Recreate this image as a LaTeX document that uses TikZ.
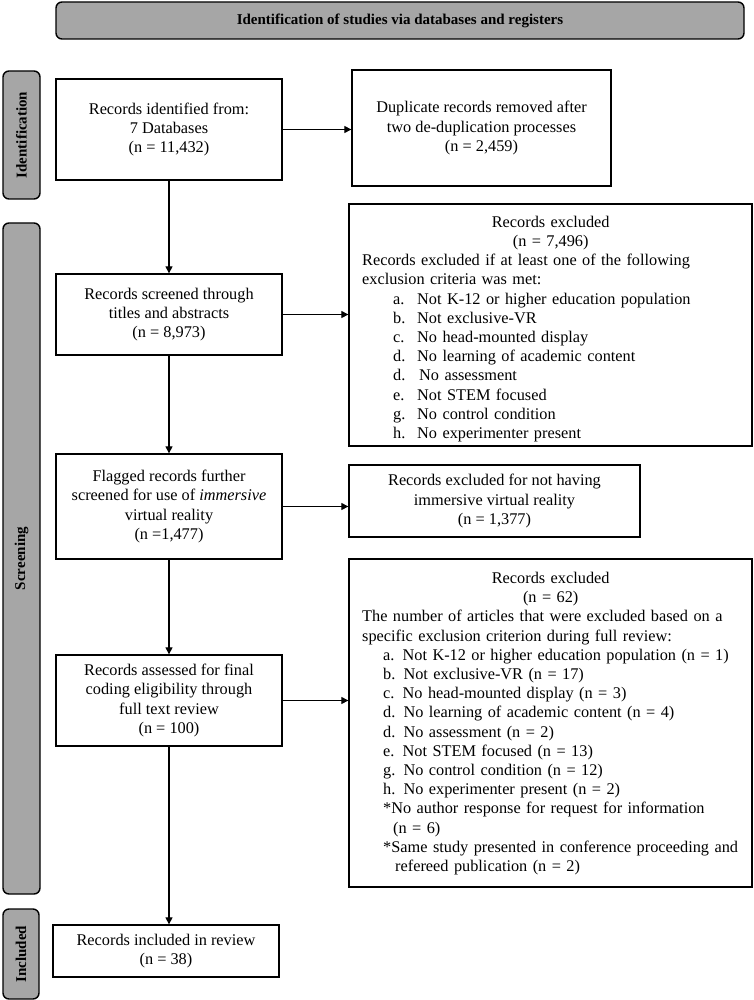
\documentclass[tikz,border=0pt]{standalone}
\usepackage{fontspec}
\setmainfont{Liberation Serif}
\usetikzlibrary{arrows.meta}
\definecolor{sidegray}{HTML}{A6A6A6}
\begin{document}
\begin{tikzpicture}[x=1pt,y=-1pt,
  box/.style={draw=black,line width=1.3pt,fill=white,inner sep=0pt,align=center,
    font=\fontsize{16.3}{19.2}\selectfont},
  sidebar/.style={draw=black,line width=1.4pt,fill=sidegray,rounded corners=6pt,
    inner sep=0pt,font=\fontsize{15}{18}\selectfont\bfseries},
  txt/.style={inner sep=0pt,align=left,text width=385pt,anchor=west,
    font=\fontsize{16.3}{19.2}\selectfont},
  arr/.style={line width=1.1pt,-{Triangle[width=7pt,length=7pt]}}
]
\useasboundingbox (0,0) rectangle (754,1000);

% banner and sidebars
\node[sidebar,minimum width=688pt,minimum height=37pt] (banner) at (400,20.5)
  {Identification of studies via databases and registers};
\node[sidebar,rotate=90,minimum width=128pt,minimum height=37pt] (sideid) at (21.5,135) {Identification};
\node[sidebar,rotate=90,minimum width=671pt,minimum height=37pt] (sidescr) at (21.5,558.5) {Screening};
\node[sidebar,rotate=90,minimum width=90pt,minimum height=36pt] (sideinc) at (21,954) {Included};

% main boxes
\node[box,minimum width=226pt,minimum height=101pt] (ident) at (169,129.5)
  {Records identified from:\\7 Databases\\(n = 11,432)};
\node[box,minimum width=259pt,minimum height=116pt] (dup) at (481.5,128)
  {Duplicate records removed after\\two de-duplication processes\\(n = 2,459)};
\node[box,minimum width=226pt,minimum height=81pt] (scr) at (169,314.5)
  {Records screened through\\titles and abstracts\\(n = 8,973)};
\node[box,minimum width=403pt,minimum height=242pt] (exA) at (550.5,325) {};
\node[txt] (exAtxt) at (362,329)
  {\makebox[377pt][c]{Records excluded}\\
   \makebox[377pt][c]{(n = 7,496)}\\
   Records excluded if at least one of the following\\
   exclusion criteria was met:\\
   \hspace*{31pt}\makebox[24pt][l]{a.}Not K-12 or higher education population\\
   \hspace*{31pt}\makebox[24pt][l]{b.}Not exclusive-VR\\
   \hspace*{31pt}\makebox[24pt][l]{c.}No head-mounted display\\
   \hspace*{31pt}\makebox[24pt][l]{d.}No learning of academic content\\
   \hspace*{31pt}\makebox[26pt][l]{d.}No assessment\\
   \hspace*{31pt}\makebox[24pt][l]{e.}Not STEM focused\\
   \hspace*{31pt}\makebox[24pt][l]{g.}No control condition\\
   \hspace*{31pt}\makebox[24pt][l]{h.}No experimenter present};
\node[box,minimum width=226pt,minimum height=105pt] (flag) at (169,506.5)
  {Flagged records further\\screened for use of \textit{immersive}\\virtual reality\\(n =1,477)};
\node[box,minimum width=291pt,minimum height=72pt] (exB) at (494.5,501)
  {Records excluded for not having\\immersive virtual reality\\(n = 1,377)};
\node[box,minimum width=226pt,minimum height=91pt] (assess) at (169,700.5)
  {Records assessed for final\\coding eligibility through\\full text review\\(n = 100)};
\node[box,minimum width=403pt,minimum height=328pt] (exC) at (550.5,723) {};
\node[txt] (exCtxt) at (362,723.5)
  {\makebox[377pt][c]{Records excluded}\\
   \makebox[377pt][c]{(n = 62)}\\
   The number of articles that were excluded based on a\\
   specific exclusion criterion during full review:\\
   \hspace*{21pt}a. Not K-12 or higher education population (n = 1)\\
   \hspace*{21pt}b. Not exclusive-VR (n = 17)\\
   \hspace*{21pt}c. No head-mounted display (n = 3)\\
   \hspace*{21pt}d. No learning of academic content (n = 4)\\
   \hspace*{21pt}d. No assessment (n = 2)\\
   \hspace*{21pt}e. Not STEM focused (n = 13)\\
   \hspace*{21pt}g. No control condition (n = 12)\\
   \hspace*{21pt}h. No experimenter present (n = 2)\\
   \hspace*{21pt}*No author response for request for information\\
   \hspace*{31pt}(n = 6)\\
   \hspace*{21pt}*Same study presented in conference proceeding and\\
   \hspace*{33pt}refereed publication (n = 2)};
\node[box,minimum width=226pt,minimum height=52pt] (incl) at (166,951)
  {Records included in review\\(n = 38)};

% connectors
\draw[arr] (ident.south) -- (scr.north);
\draw[arr] (ident.east) -- (ident.east -| dup.west);
\draw[arr] (scr.east) -- (scr.east -| exA.west);
\draw[arr] (scr.south) -- (flag.north);
\draw[arr] (flag.east) -- (flag.east -| exB.west);
\draw[arr] (flag.south) -- (assess.north);
\draw[arr] (assess.east) -- (assess.east -| exC.west);
\draw[arr] (assess.south) -- (assess.south |- incl.north);
\end{tikzpicture}
\end{document}
